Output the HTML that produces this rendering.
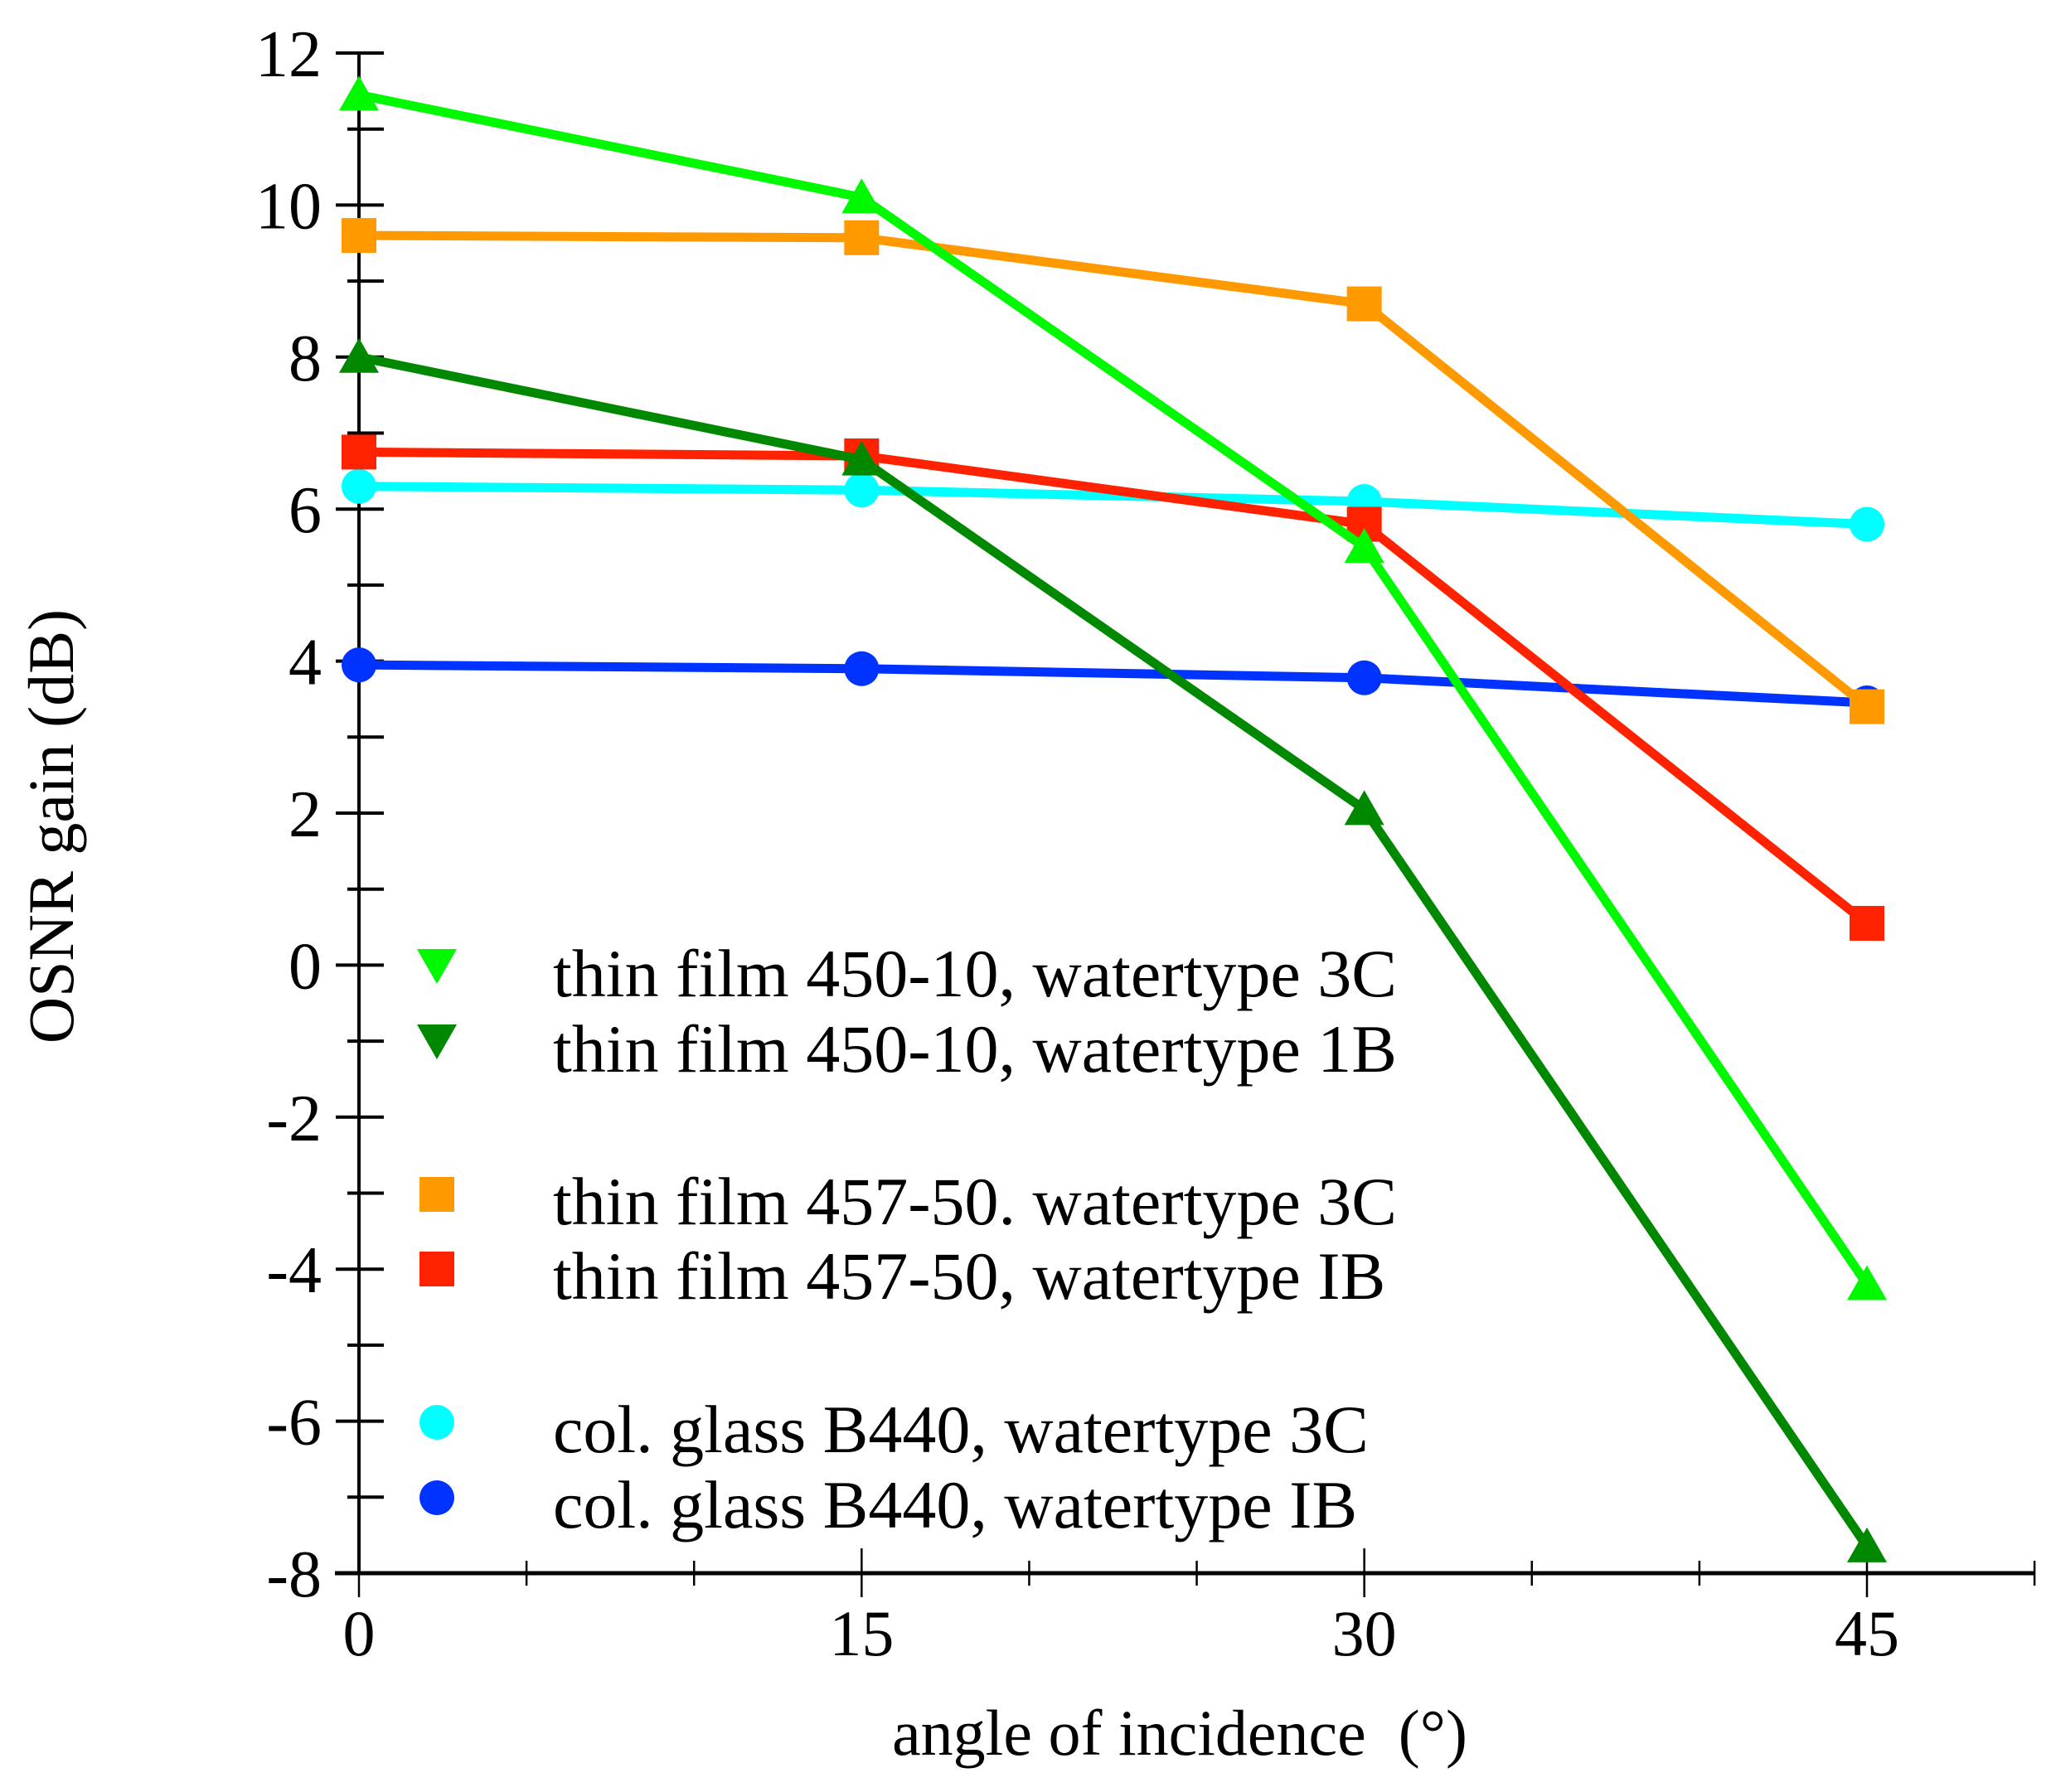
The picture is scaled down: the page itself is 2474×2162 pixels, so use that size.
<!DOCTYPE html>
<html><head><meta charset="utf-8"><style>
html,body{margin:0;padding:0;background:#fff}
svg{display:block}
text{font-family:"Liberation Serif",serif;fill:#000}
</style></head><body>
<svg id="chart" width="2474" height="2162" viewBox="0 0 2474 2162" xmlns="http://www.w3.org/2000/svg">
<g id="axes"></g>
<g id="series"></g>
<g id="legend"></g>
</svg>
<script>
const angles = [0, 15, 30, 45];
const lightGreen3C = [11.45, 10.1, 5.5, -4.2];
const darkGreen1B = [8.0, 6.65, 2.05, -7.65];
const orange3C = [9.6, 9.57, 8.7, 3.4];
const red1B = [6.75, 6.7, 5.8, 0.55];
const cyan3C = [6.3, 6.25, 6.1, 5.8];
const blue1B = [3.95, 3.9, 3.78, 3.45];
const yTicks = [12, 10, 8, 6, 4, 2, 0, -2, -4, -6, -8];
const xTicks = [0, 15, 30, 45];
const legendLabels = ["thin film 450-10, watertype 3C","thin film 450-10, watertype 1B","thin film 457-50. watertype 3C","thin film 457-50, watertype IB","col. glass B440, watertype 3C","col. glass B440, watertype IB"];

const NS = "http://www.w3.org/2000/svg";
const X = v => 433 + (v - 0) * (2252 - 433) / 45;
const Y = v => 1898 - (v + 8) * (1898 - 64) / 20;
function mk(tag, attrs, parent){const e=document.createElementNS(NS,tag);for(const k in attrs)e.setAttribute(k,attrs[k]);parent.appendChild(e);return e;}
const axes=document.getElementById('axes'), ser=document.getElementById('series'), leg=document.getElementById('legend');

let yl=mk('line',{x1:X(0),y1:Y(12),x2:X(0),y2:Y(-8)+2,stroke:'#000','stroke-width':4},axes);


let xl=mk('line',{x1:404,y1:Y(-8),x2:X(50),y2:Y(-8),stroke:'#000','stroke-width':5},axes);


for(let v=-8; v<=12; v++){
  const major = v%2===0;
  const t=mk('line',{x1:X(0)-(major?28:14),x2:X(0)+30,y1:Y(v),y2:Y(v),stroke:'#000','stroke-width':4},axes);
  
  
}
yTicks.forEach(v=>{
  const t=mk('text',{x:388,y:Y(v)+28,'text-anchor':'end','font-size':80},axes);
  t.textContent=String(v);
  
  
});
for(let v=0; v<=50; v+=5){
  const major = v%15===0;
  const t=mk('line',{x1:X(v),x2:X(v),y1:Y(-8)-(major?30:15),y2:Y(-8)+(major?29:15),stroke:'#000','stroke-width':2.5},axes);
  
  
}
xTicks.forEach(v=>{
  const t=mk('text',{x:X(v),y:1997,'text-anchor':'middle','font-size':78},axes);
  t.textContent=String(v);
  
  
});
let xt=mk('text',{x:1423,y:2117,'text-anchor':'middle','font-size':78},axes);
xt.textContent='angle of incidence \u00a0(°)';


let yt=mk('text',{x:0,y:0,'text-anchor':'middle','font-size':78,transform:'translate(88,997) rotate(-90)'},axes);
yt.textContent='OSNR gain (dB)';



function marker(shape,cx,cy,col,parent,down){
  let e;
  if(shape==='tri'){
    const h=42,w=48;
    const pts = down ? `${cx-w/2},${cy-h/2} ${cx+w/2},${cy-h/2} ${cx},${cy+h/2}` : `${cx-w/2},${cy+h/2} ${cx+w/2},${cy+h/2} ${cx},${cy-h/2}`;
    e=mk('polygon',{points:pts,fill:col},parent);
  } else if(shape==='sq'){
    e=mk('rect',{x:cx-21,y:cy-21,width:42,height:42,fill:col},parent);
  } else {
    e=mk('circle',{cx:cx,cy:cy,r:21,fill:col},parent);
  }
  return e;
}
const seriesList=[
  [blue1B,'#0033ff','circ','blue-1b'],
  [cyan3C,'#00ffff','circ','cyan-3c'],
  [orange3C,'#ff9900','sq','orange-3c'],
  [red1B,'#ff2200','sq','red-1b'],
  [darkGreen1B,'#008800','tri','dark-green-1b'],
  [lightGreen3C,'#00f800','tri','light-green-3c'],
];
seriesList.forEach(([vals,col,shape,name])=>{
  const g=mk('g',{},ser);
  
  
  const pl=mk('polyline',{points:vals.map((v,i)=>X(angles[i])+','+Y(v)).join(' '),fill:'none',stroke:col,'stroke-width':11,'stroke-linejoin':'miter'},g);
  
  
  vals.forEach((v,i)=>{
    const m=marker(shape,X(angles[i]),Y(v)-(shape==='tri'?2:0),col,g,false);
    
    
  });
});
const legCols=['#00f800','#008800','#ff9900','#ff2200','#00ffff','#0033ff'];
const legShapes=['tri','tri','sq','sq','circ','circ'];
const legBase=[1202,1293,1477,1567,1752,1843];
legendLabels.forEach((lab,i)=>{
  const g=mk('g',{},leg);
  
  
  const m=marker(legShapes[i],527,legBase[i]-36,legCols[i],g,true);
  
  
  const t=mk('text',{x:667,y:legBase[i],'font-size':82},g);
  t.textContent=lab;
  
  
});
</script>
</body></html>
